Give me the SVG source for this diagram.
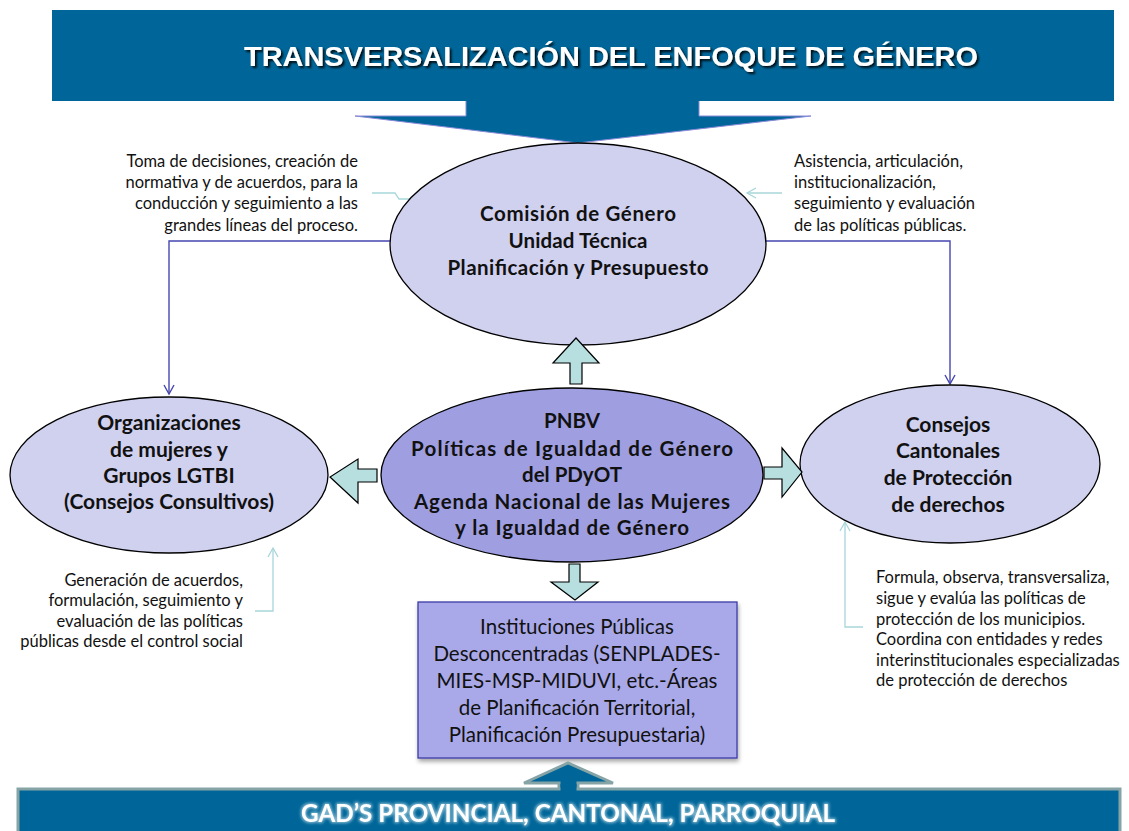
<svg xmlns="http://www.w3.org/2000/svg" width="1129" height="831" viewBox="0 0 1129 831">
<style>
.node-light{fill:#d0d0ef;stroke:#000;stroke-width:1.3}
.node-mid{fill:#9e9ee0;stroke:#000;stroke-width:1.3}
.bold{font-family:Lato,"Liberation Sans",sans-serif;font-weight:bold;fill:#111;text-anchor:middle}
.reg{font-family:Lato,"Liberation Sans",sans-serif;fill:#111}
.note{font-family:Lato,"Liberation Sans",sans-serif;font-size:16.5px;fill:#111}
.blk{fill:#b7dfe0;stroke:#000;stroke-width:1.2}
.conn{fill:none;stroke:#4646b0;stroke-width:1.4}
.call{fill:none;stroke:#a8d6da;stroke-width:1.3}
</style>
<defs>
<marker id="vb" markerUnits="userSpaceOnUse" markerWidth="14" markerHeight="14" refX="10" refY="6" orient="auto">
<path d="M1,1 L10,6 L1,11" fill="none" stroke="#4646b0" stroke-width="1.4"/>
</marker>
<marker id="vc" markerUnits="userSpaceOnUse" markerWidth="14" markerHeight="14" refX="10" refY="6" orient="auto">
<path d="M1,1 L10,6 L1,11" fill="none" stroke="#a8d6da" stroke-width="1.3"/>
</marker>
<filter id="tshadow" x="-5%" y="-20%" width="110%" height="160%">
<feDropShadow dx="2" dy="2" stdDeviation="0.8" flood-color="#000" flood-opacity="0.85"/>
</filter>
<filter id="glow" x="-5%" y="-30%" width="110%" height="160%">
<feMorphology in="SourceAlpha" operator="dilate" radius="1.2" result="d"/>
<feGaussianBlur in="d" stdDeviation="1.5" result="b"/>
<feFlood flood-color="#c8e4ee" flood-opacity="0.7"/>
<feComposite in2="b" operator="in" result="g"/>
<feMerge><feMergeNode in="g"/><feMergeNode in="SourceGraphic"/></feMerge>
</filter>
<filter id="boxshadow" x="-5%" y="-5%" width="115%" height="115%">
<feDropShadow dx="1" dy="3" stdDeviation="2" flood-color="#000" flood-opacity="0.35"/>
</filter>
</defs>
<rect width="1129" height="831" fill="#fff"/>

<g id="top-banner">
<path d="M52,10 H1114 V101 H699 V116 H811 L578,143 L355,116 H466 V101 H52 Z" fill="#006699"/>
<path d="M466,101 V116 H355 L578,143 L811,116 H699 V101" fill="none" stroke="#8a8ad8" stroke-width="1"/>
<text x="611" y="66" font-family="Liberation Sans, sans-serif" font-weight="bold" font-size="28" fill="#fff" text-anchor="middle" textLength="734" lengthAdjust="spacingAndGlyphs" filter="url(#tshadow)">TRANSVERSALIZACIÓN DEL ENFOQUE DE GÉNERO</text>
</g>

<g id="connectors">
<path class="conn" d="M391,241 H169 V394" marker-end="url(#vb)"/>
<path class="conn" d="M765,241 H950 V384" marker-end="url(#vb)"/>
<path class="call" d="M372,193 H395 L399,199 H425" marker-end="url(#vc)"/>
<path class="call" d="M782,193 H747" marker-end="url(#vc)"/>
<path class="call" d="M255,611 H273 V548" marker-end="url(#vc)"/>
<path class="call" d="M863,627 H845 V522" marker-end="url(#vc)"/>
</g>

<g id="comision">
<ellipse class="node-light" cx="578" cy="244" rx="188" ry="101"/>
<text class="bold" font-size="20.5" lengthAdjust="spacingAndGlyphs"><tspan x="578" y="221" textLength="196">Comisión de Género</tspan><tspan x="578" y="248" textLength="139">Unidad Técnica</tspan><tspan x="578" y="275" textLength="261">Planificación y Presupuesto</tspan></text>
</g>

<g id="organizaciones">
<ellipse class="node-light" cx="169" cy="475" rx="159" ry="78"/>
<text class="bold" font-size="21"><tspan x="169" y="430">Organizaciones</tspan><tspan x="169" y="457">de mujeres y</tspan><tspan x="169" y="483">Grupos LGTBI</tspan><tspan x="169" y="509">(Consejos Consultivos)</tspan></text>
</g>

<g id="pnbv">
<ellipse class="node-mid" cx="572" cy="475" rx="191" ry="87"/>
<text class="bold" font-size="20.5" lengthAdjust="spacingAndGlyphs"><tspan x="572" y="428">PNBV</tspan><tspan x="572" y="456" textLength="322">Políticas de Igualdad de Género</tspan><tspan x="572" y="482">del PDyOT</tspan><tspan x="572" y="509" textLength="316">Agenda Nacional de las Mujeres</tspan><tspan x="572" y="535" textLength="234">y la Igualdad de Género</tspan></text>
</g>

<g id="consejos">
<ellipse class="node-light" cx="950" cy="464" rx="150" ry="79"/>
<text class="bold" font-size="21"><tspan x="948" y="432">Consejos</tspan><tspan x="948" y="458">Cantonales</tspan><tspan x="948" y="485">de Protección</tspan><tspan x="948" y="512">de derechos</tspan></text>
</g>

<g id="block-arrows">
<path class="blk" d="M570,384 V363 H553 L576,338 L599,363 H582 V384 Z"/>
<path class="blk" d="M377,469 H358 V459 L330,477 L358,503 V482 H377 Z"/>
<path class="blk" d="M764,467 H782 V448 L802,472 L782,497 V479 H764 Z"/>
<path class="blk" d="M569,564 H580 V582 H598 L575,600 L551,582 H569 Z"/>
</g>

<g id="instituciones">
<rect x="418" y="602" width="319" height="156" fill="#a9a9e9" stroke="#3c3ca8" stroke-width="1.3" filter="url(#boxshadow)"/>
<text class="reg" font-size="20.5" text-anchor="middle"><tspan x="577" y="634">Instituciones Públicas</tspan><tspan x="577" y="661">Desconcentradas (SENPLADES-</tspan><tspan x="577" y="688">MIES-MSP-MIDUVI, etc.-Áreas</tspan><tspan x="577" y="715">de Planificación Territorial,</tspan><tspan x="577" y="742">Planificación Presupuestaria)</tspan></text>
</g>

<g id="notes">
<text class="note" text-anchor="end"><tspan x="358" y="167">Toma de decisiones, creación de</tspan><tspan x="358" y="188">normativa y de acuerdos, para la</tspan><tspan x="358" y="209">conducción y seguimiento a las</tspan><tspan x="358" y="231">grandes  líneas del proceso.</tspan></text>
<text class="note"><tspan x="794" y="167">Asistencia, articulación,</tspan><tspan x="794" y="188">institucionalización,</tspan><tspan x="794" y="209">seguimiento y evaluación</tspan><tspan x="794" y="231">de las políticas públicas.</tspan></text>
<text class="note" text-anchor="end"><tspan x="243" y="586">Generación de  acuerdos,</tspan><tspan x="243" y="606">formulación,  seguimiento y</tspan><tspan x="243" y="627">evaluación de las políticas</tspan><tspan x="243" y="647">públicas desde el control social</tspan></text>
<text class="note"><tspan x="876" y="583">Formula, observa, transversaliza,</tspan><tspan x="876" y="604">sigue y evalúa las políticas de</tspan><tspan x="876" y="625">protección de los municipios.</tspan><tspan x="876" y="645">Coordina con entidades y redes</tspan><tspan x="876" y="666">interinstitucionales especializadas</tspan><tspan x="876" y="686">de protección de derechos</tspan></text>
</g>

<g id="bottom-banner">
<path d="M559,791 V783 H524 L568,763 L613,783 H578 V791 Z" fill="#006699" stroke="#86a4a6" stroke-width="3" stroke-linejoin="miter"/>
<rect x="18" y="789" width="1102" height="50" fill="#006699" stroke="#86a4a6" stroke-width="3"/>
<rect x="560.5" y="784" width="16" height="8" fill="#006699"/>
<text x="568" y="822" font-family="Lato, Liberation Sans, sans-serif" font-weight="bold" font-size="24" fill="#fff" text-anchor="middle" textLength="534" lengthAdjust="spacingAndGlyphs" filter="url(#glow)">GAD’S PROVINCIAL, CANTONAL, PARROQUIAL</text>
</g>
</svg>
